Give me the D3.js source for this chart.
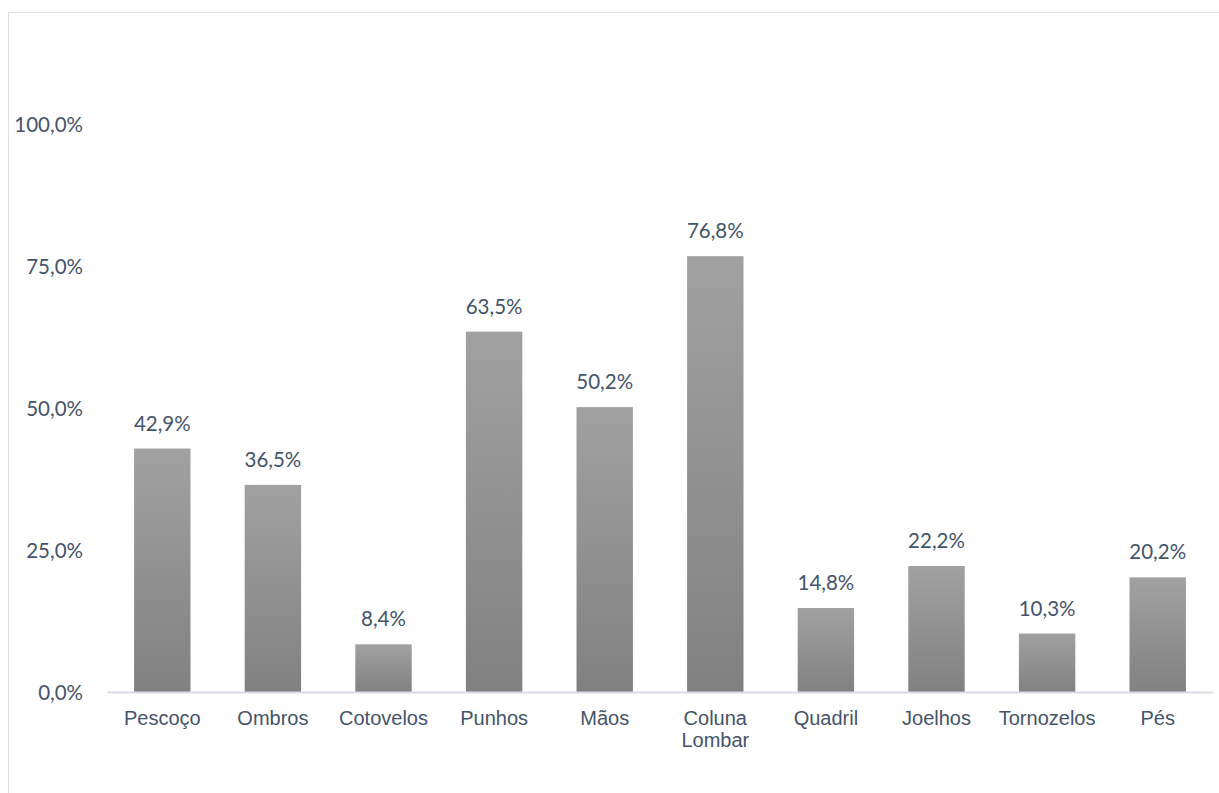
<!DOCTYPE html>
<html>
<head>
<meta charset="utf-8">
<script src="https://cdn.jsdelivr.net/npm/d3@7"></script>
<style>
  html, body { margin: 0; padding: 0; background: #fff; }
  svg { display: block; }
</style>
</head>
<body>
<script>
// Region labels (line breaks marked with "\n") and share of respondents per region
const categories = ["Pescoço", "Ombros", "Cotovelos", "Punhos", "Mãos", "Coluna\nLombar", "Quadril", "Joelhos", "Tornozelos", "Pés"];
const values = [0.429, 0.365, 0.084, 0.635, 0.502, 0.768, 0.148, 0.222, 0.103, 0.202];
const yTicks = [0, 0.25, 0.5, 0.75, 1.0];

const W = 1219, H = 793;
const textColor = "#44546a";
const numFont = "Lato, 'Open Sans', sans-serif";
const catFont = "'Liberation Sans', Arial, sans-serif";

const svg = d3.select("body").append("svg").attr("width", W).attr("height", H);

// Gradient fill for bars: lighter at top, darker at bottom
const defs = svg.append("defs");
const grad = defs.append("linearGradient")
  .attr("id", "barGrad").attr("x1", 0).attr("y1", 0).attr("x2", 0).attr("y2", 1);
grad.append("stop").attr("offset", "0%").attr("stop-color", "#a1a1a1");
grad.append("stop").attr("offset", "100%").attr("stop-color", "#818181");

// Chart frame
svg.append("rect")
  .attr("x", 8.5).attr("y", 12.5).attr("width", W + 10).attr("height", H + 10)
  .attr("fill", "none").attr("stroke", "#dee2e8").attr("stroke-width", 1);

const x = d3.scaleBand().domain(categories).range([107, 1213]).paddingInner(0.49).paddingOuter(0.245);
const y = d3.scaleLinear().domain([0, 1]).range([692, 124.5]);

const fmt = v => d3.format(".1f")(v * 100).replace(".", ",") + "%";

// Y axis labels (no axis line, no gridlines)
const yAxis = d3.axisLeft(y).tickValues(yTicks).tickSize(0).tickPadding(0).tickFormat(fmt);
const yg = svg.append("g").attr("transform", "translate(83,0)").call(yAxis);
yg.select(".domain").remove();
yg.selectAll("text")
  .attr("fill", textColor)
  .attr("font-family", numFont)
  .attr("font-size", "20.5px")
  .attr("dy", "0.35em");

// Bars
svg.append("g").selectAll("rect")
  .data(values)
  .join("rect")
  .attr("x", (d, i) => x(categories[i]))
  .attr("y", d => y(d))
  .attr("width", x.bandwidth())
  .attr("height", d => y(0) - y(d))
  .attr("fill", "url(#barGrad)");

// Category axis
const xAxis = d3.axisBottom(x).tickSize(0).tickPadding(0).tickFormat("");
const xg = svg.append("g").attr("transform", `translate(0,${y(0)})`).call(xAxis);
xg.select(".domain").attr("stroke", "#d9dde3").attr("stroke-width", 2);
xg.selectAll(".tick").each(function(d) {
  const t = d3.select(this).append("text")
    .attr("fill", textColor)
    .attr("font-family", catFont)
    .attr("font-size", "20px")
    .attr("text-anchor", "middle")
    .attr("y", 33);
  d.split("\n").forEach((line, k) => {
    t.append("tspan").attr("x", 0).attr("dy", k === 0 ? 0 : 22).text(line);
  });
});

// Value labels above bars
svg.append("g").selectAll("text")
  .data(values)
  .join("text")
  .attr("x", (d, i) => x(categories[i]) + x.bandwidth() / 2)
  .attr("y", d => y(d) - 18)
  .attr("text-anchor", "middle")
  .attr("fill", textColor)
  .attr("font-family", numFont)
  .attr("font-size", "20.5px")
  .text(fmt);
</script>
</body>
</html>
